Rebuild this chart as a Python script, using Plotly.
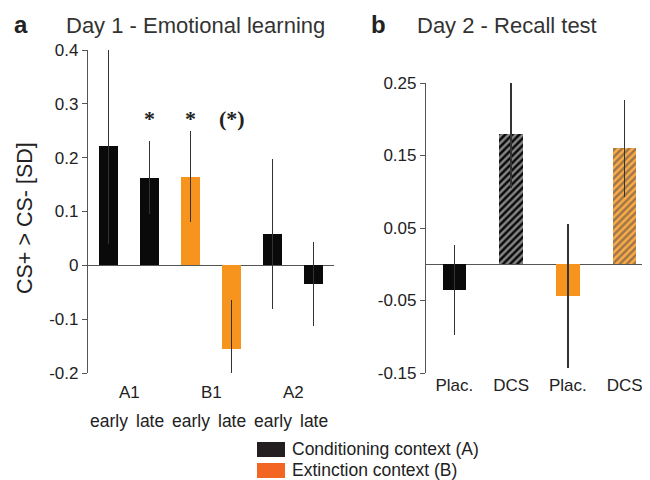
import plotly.graph_objects as go

# Day 1 - emotional learning
day1_phase = ["A1", "B1", "A2"]
day1_stage = ["early", "late", "early", "late", "early", "late"]
day1_mean = [0.222, 0.163, 0.165, -0.155, 0.058, -0.034]
day1_err = [0.182, 0.068, 0.085, 0.090, 0.140, 0.078]
day1_context = ["A", "A", "B", "B", "A", "A"]
day1_stars = ["", "*", "*", "(*)", "", ""]

# Day 2 - recall test
day2_labels = ["Plac.", "DCS", "Plac.", "DCS"]
day2_mean = [-0.035, 0.179, -0.044, 0.160]
day2_err = [0.062, 0.074, 0.099, 0.067]
day2_context = ["A", "A", "B", "B"]
day2_drug = ["Plac.", "DCS", "Plac.", "DCS"]
day2_stars = ["", "*", "", "*"]

day1_ticks = [-0.2, -0.1, 0, 0.1, 0.2, 0.3, 0.4]
day2_ticks = [-0.15, -0.05, 0.05, 0.15, 0.25]

BLACK = "#0a0a0a"
ORANGE = "#f7941d"
ORANGE_LIGHT = "#fbab4a"
LEGEND_ORANGE = "#f26522"
AXIS = "#555555"
TXT = "#222222"
FONT = "Liberation Sans"
W, H = 650, 480
OFF = 8  # page body margin


def px(x):
    return (x - OFF) / W


def py(y):
    return 1 - (y - OFF) / H


solid = {"A": BLACK, "B": ORANGE}
hatch = {"A": BLACK, "B": ORANGE_LIGHT}

fig = go.Figure()

x1 = list(range(len(day1_mean)))
fig.add_trace(go.Bar(
    x=x1, y=day1_mean,
    marker=dict(color=[solid[c] for c in day1_context], line=dict(width=0)),
    error_y=dict(type="data", array=day1_err, color="#333333", thickness=1.3, width=0),
    width=0.44, xaxis="x", yaxis="y", showlegend=False,
))

x2 = list(range(len(day2_mean)))
fig.add_trace(go.Bar(
    x=x2, y=day2_mean,
    marker=dict(
        color=[(hatch if d == "DCS" else solid)[c] for c, d in zip(day2_context, day2_drug)],
        line=dict(width=0),
        pattern=dict(
            shape=["/" if d == "DCS" else "" for d in day2_drug],
            bgcolor="white", size=5, solidity=0.5,
        ),
    ),
    error_y=dict(type="data", array=day2_err, color="#333333", thickness=1.3, width=0),
    width=0.41, xaxis="x2", yaxis="y2", showlegend=False,
))

yaxis_common = dict(
    showgrid=False, showline=True, linecolor=AXIS, linewidth=1.2,
    ticks="outside", ticklen=5, tickcolor=AXIS,
    tickfont=dict(size=17, color=TXT, family=FONT),
    zeroline=True, zerolinecolor=AXIS, zerolinewidth=1.2,
    automargin=False,
)

fig.update_layout(
    width=W, height=H,
    margin=dict(l=0, r=0, t=0, b=0, autoexpand=False),
    paper_bgcolor="white", plot_bgcolor="white",
    font=dict(family=FONT, color=TXT),
    bargap=0, showlegend=False,
    xaxis=dict(domain=[px(88), px(334)], range=[-0.5, 5.5], showgrid=False,
               showline=False, zeroline=False, showticklabels=False, ticks="",
               automargin=False),
    yaxis=dict(domain=[py(373), py(50)], range=[-0.2, 0.4],
               tickvals=day1_ticks, ticktext=[f"{v:g}" for v in day1_ticks],
               **yaxis_common),
    xaxis2=dict(domain=[px(426), px(653)], range=[-0.5, 3.5], showgrid=False,
                showline=False, zeroline=False, ticks="", anchor="y2",
                tickvals=x2, ticktext=day2_labels, automargin=False,
                tickfont=dict(size=17, color=TXT, family=FONT)),
    yaxis2=dict(domain=[py(373), py(83)], range=[-0.15, 0.25], anchor="x2",
                tickvals=day2_ticks, ticktext=[f"{v:g}" for v in day2_ticks],
                **yaxis_common),
)

ann = []


def label(text, x, y, size, xanchor="center", xref="paper", yref="paper", **kw):
    ann.append(dict(text=text, x=x, y=y, xref=xref, yref=yref, xanchor=xanchor,
                    yanchor="middle", showarrow=False,
                    font=dict(size=size, color=kw.pop("color", TXT),
                              family=kw.pop("family", FONT)), **kw))


# panel titles
label("<b>a</b>", px(21), py(25), 24)
label("Day 1 - Emotional learning", px(64), py(26), 22, xanchor="left", color="#333333")
label("<b>b</b>", px(378), py(25), 24)
label("Day 2 - Recall test", px(415), py(26), 22, xanchor="left", color="#333333")
# y axis title
label("CS+ > CS- [SD]", px(25), py(218), 21.5, textangle=-90)
# day 1 category labels
for i, ph in enumerate(day1_phase):
    label(ph, 2 * i + 0.5, py(392), 17, xref="x")
for i, st in enumerate(day1_stage):
    label(st, i, py(421), 17.5, xref="x")
# significance marks
for i, s in enumerate(day1_stars):
    if s:
        label(f"<b>{s}</b>", i, 0.272, 22, xref="x", yref="y", family="Liberation Serif")
for i, s in enumerate(day2_stars):
    if s:
        label(f"<b>{s}</b>", i, 0.274, 22, xref="x2", yref="y2", family="Liberation Serif")
# legend
legend_items = [("Conditioning context (A)", "#231f20", 442),
                ("Extinction context (B)", LEGEND_ORANGE, 463)]
shapes = []
for text, col, top in legend_items:
    shapes.append(dict(type="rect", xref="paper", yref="paper",
                       x0=px(257), x1=px(285), y0=py(top + 15), y1=py(top),
                       fillcolor=col, line=dict(width=0)))
    label(text, px(290), py(top + 7), 17.5, xanchor="left")

fig.update_layout(annotations=ann, shapes=shapes)

fig.write_html("out.html")
